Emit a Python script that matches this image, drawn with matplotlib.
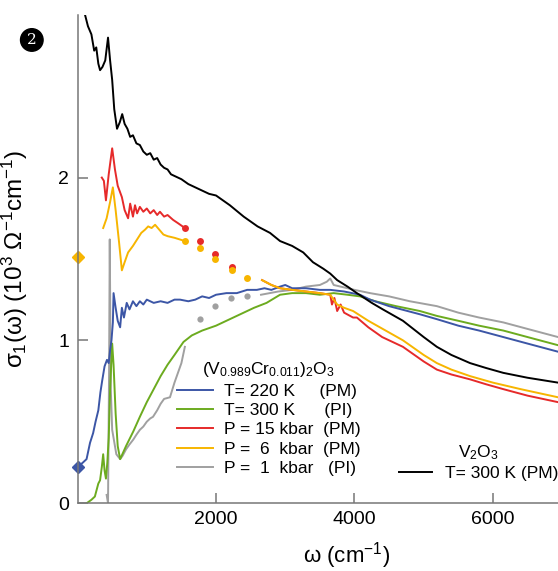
import matplotlib
matplotlib.use('Agg')
import matplotlib.pyplot as plt
from matplotlib.lines import Line2D

plt.rcParams['font.family'] = ['Liberation Sans', 'DejaVu Sans']
plt.rcParams['mathtext.fontset'] = 'custom'
plt.rcParams['mathtext.rm'] = 'Liberation Sans'
plt.rcParams['mathtext.it'] = 'Liberation Sans'

# V2O3, T = 300 K (PM)
v2o3_x = [108, 150, 200, 240, 270, 300, 325, 360, 400, 440, 470, 500, 530, 570, 610, 645,
          680, 720, 760, 800, 850, 900, 950, 1000, 1050, 1100, 1150, 1200, 1250, 1300, 1350,
          1400, 1500, 1600, 1700, 1800, 1900, 2000, 2200, 2400, 2600, 2780, 2925, 3100, 3260,
          3400, 3550, 3650, 3750, 3900, 4035, 4250, 4410, 4700, 5000, 5190, 5400, 5670, 5900,
          6150, 6500, 6940]
v2o3_y = [3.00, 2.93, 2.88, 2.78, 2.80, 2.70, 2.66, 2.68, 2.72, 2.86, 2.72, 2.60, 2.42, 2.30,
          2.34, 2.39, 2.33, 2.30, 2.25, 2.26, 2.21, 2.20, 2.16, 2.14, 2.15, 2.11, 2.12, 2.08,
          2.06, 2.05, 2.02, 2.01, 1.99, 1.96, 1.94, 1.92, 1.90, 1.89, 1.83, 1.76, 1.70, 1.66,
          1.61, 1.58, 1.54, 1.48, 1.44, 1.41, 1.37, 1.33, 1.29, 1.23, 1.19, 1.12, 1.02, 0.96,
          0.91, 0.86, 0.83, 0.80, 0.77, 0.74]

# T = 220 K (PM)
t220_x = [0, 80, 130, 180, 225, 260, 300, 330, 355, 390, 425, 450, 470, 490, 510, 520, 550,
          580, 615, 640, 670, 710, 750, 800, 850, 900, 950, 1000, 1100, 1200, 1300, 1400, 1480,
          1600, 1700, 1800, 1900, 2000, 2150, 2300, 2450, 2590, 2700, 2800, 2925, 3000, 3100,
          3300, 3500, 3650, 3850, 4080, 4225, 4500, 4945, 5190, 5500, 5800, 6150, 6500, 6940]
t220_y = [0.22, 0.25, 0.27, 0.37, 0.43, 0.50, 0.57, 0.68, 0.75, 0.84, 0.88, 0.86, 0.94, 1.00,
          1.11, 1.29, 1.20, 1.12, 1.08, 1.20, 1.14, 1.23, 1.19, 1.24, 1.21, 1.24, 1.22, 1.25,
          1.23, 1.24, 1.23, 1.25, 1.25, 1.24, 1.25, 1.27, 1.26, 1.28, 1.29, 1.29, 1.31, 1.31,
          1.32, 1.31, 1.33, 1.34, 1.32, 1.32, 1.31, 1.31, 1.30, 1.28, 1.25, 1.21, 1.16, 1.13,
          1.09, 1.06, 1.02, 0.98, 0.93]

# T = 300 K (PI)
t300_x = [135, 200, 250, 300, 325, 350, 370, 390, 410, 430, 450, 470, 500, 520, 550, 580, 615,
          700, 805, 900, 1000, 1100, 1200, 1300, 1400, 1530, 1650, 1800, 2000, 2100, 2250, 2400,
          2550, 2730, 2925, 3100, 3300, 3500, 3700, 3900, 4080, 4300, 4600, 4945, 5190, 5500,
          5800, 6150, 6500, 6940]
t300_y = [0.00, 0.02, 0.04, 0.12, 0.14, 0.22, 0.30, 0.20, 0.15, 0.25, 0.40, 0.70, 0.98, 0.85,
          0.55, 0.35, 0.27, 0.35, 0.44, 0.53, 0.62, 0.70, 0.78, 0.85, 0.91, 0.99, 1.03, 1.06,
          1.09, 1.11, 1.14, 1.17, 1.20, 1.23, 1.28, 1.29, 1.29, 1.28, 1.29, 1.28, 1.27, 1.24,
          1.21, 1.18, 1.15, 1.12, 1.09, 1.06, 1.02, 0.97]

# P = 15 kbar (PM): low-frequency part, dots, high-frequency part
p15_lo_x = [350, 380, 410, 450, 500, 540, 580, 640, 680, 730, 760, 800, 830, 860, 900, 950,
            1000, 1050, 1100, 1150, 1190, 1250, 1300, 1380, 1450, 1550]
p15_lo_y = [2.00, 1.98, 1.86, 2.02, 2.18, 2.05, 1.95, 1.88, 1.80, 1.75, 1.84, 1.76, 1.83, 1.78,
            1.82, 1.79, 1.81, 1.78, 1.80, 1.77, 1.79, 1.76, 1.77, 1.74, 1.72, 1.69]
p15_dot_x = [1550, 1770, 1985, 2230]
p15_dot_y = [1.69, 1.61, 1.53, 1.45]
p15_hi_x = [2665, 2800, 2925, 3100, 3300, 3500, 3650, 3675, 3710, 3750, 3800, 3850, 3980,
            4035, 4200, 4400, 4700, 5000, 5190, 5400, 5670, 5900, 6150, 6500, 6940]
p15_hi_y = [1.37, 1.34, 1.32, 1.31, 1.30, 1.29, 1.28, 1.22, 1.26, 1.18, 1.22, 1.17, 1.14,
            1.14, 1.08, 1.02, 0.96, 0.87, 0.82, 0.79, 0.76, 0.73, 0.70, 0.66, 0.62]

# P = 6 kbar (PM)
p6_lo_x = [370, 420, 470, 510, 550, 600, 640, 680, 730, 800, 860, 920, 975, 1020, 1070, 1120,
           1180, 1240, 1300, 1400, 1550]
p6_lo_y = [1.69, 1.75, 1.85, 1.94, 1.80, 1.60, 1.43, 1.48, 1.54, 1.58, 1.62, 1.66, 1.68, 1.70,
           1.69, 1.71, 1.68, 1.65, 1.64, 1.63, 1.61]
p6_dot_x = [0, 1550, 1770, 1985, 2230, 2445]
p6_dot_y = [1.51, 1.61, 1.57, 1.50, 1.43, 1.38]
p6_hi_x = [2665, 2800, 2925, 3100, 3300, 3500, 3650, 3700, 3750, 3850, 3980, 4200, 4450, 4700,
           5000, 5190, 5400, 5670, 6000, 6400, 6940]
p6_hi_y = [1.37, 1.34, 1.32, 1.31, 1.30, 1.29, 1.28, 1.25, 1.22, 1.20, 1.18, 1.12, 1.06, 1.00,
           0.91, 0.86, 0.82, 0.78, 0.74, 0.70, 0.65]

# P = 1 kbar (PI)
p1_lo_x = [420, 440, 455, 465, 480, 500, 560, 615, 650, 700, 750, 805, 850, 900, 950, 1000,
           1050, 1090, 1150, 1200, 1250, 1335, 1400, 1450, 1500, 1550]
p1_lo_y = [0.05, 0.00, 0.80, 1.62, 0.70, 0.45, 0.30, 0.27, 0.29, 0.33, 0.36, 0.39, 0.42, 0.45,
           0.47, 0.50, 0.52, 0.53, 0.57, 0.61, 0.64, 0.65, 0.74, 0.80, 0.86, 0.96]
p1_dot_x = [1770, 1985, 2215, 2445]
p1_dot_y = [1.13, 1.21, 1.26, 1.27]
p1_hi_x = [2650, 2900, 3100, 3300, 3500, 3600, 3650, 3700, 3800, 4000, 4225, 4500, 4800, 5190,
           5500, 5800, 6150, 6500, 6940]
p1_hi_y = [1.28, 1.30, 1.31, 1.33, 1.34, 1.36, 1.38, 1.34, 1.33, 1.31, 1.29, 1.27, 1.24, 1.21,
           1.17, 1.14, 1.11, 1.07, 1.02]

c_blue = '#3c56a6'
c_green = '#6cab1f'
c_red = '#e62a2a'
c_orange = '#f7b500'
c_gray = '#a0a0a0'

fig = plt.figure(figsize=(5.58, 5.71), dpi=100)
ax = fig.add_axes([0.139, 0.119, 0.861, 0.855])

lw = 1.4
ax.plot(p1_lo_x, p1_lo_y, color=c_gray, lw=lw)
ax.plot(p1_hi_x, p1_hi_y, color=c_gray, lw=lw)
ax.plot(p1_dot_x, p1_dot_y, 'o', color=c_gray, ms=4.5, mec='none')
ax.plot(t300_x, t300_y, color=c_green, lw=lw)
ax.plot(t220_x, t220_y, color=c_blue, lw=lw)
ax.plot(t220_x[:1], t220_y[:1], 'D', color=c_blue, ms=6, clip_on=False)
ax.plot(p15_lo_x, p15_lo_y, color=c_red, lw=lw)
ax.plot(p15_hi_x, p15_hi_y, color=c_red, lw=lw)
ax.plot(p15_dot_x, p15_dot_y, 'o', color=c_red, ms=5, mec='none')
ax.plot(p6_lo_x, p6_lo_y, color=c_orange, lw=lw)
ax.plot(p6_hi_x, p6_hi_y, color=c_orange, lw=lw)
ax.plot(p6_dot_x[1:], p6_dot_y[1:], 'o', color=c_orange, ms=5, mec='none')
ax.plot(p6_dot_x[:1], p6_dot_y[:1], 'D', color=c_orange, ms=6, clip_on=False)
ax.plot(v2o3_x, v2o3_y, color='black', lw=lw)

ax.set_xlim(0, 6940)
ax.set_ylim(0, 3.0)
ax.set_xticks([2000, 4000, 6000])
ax.set_yticks([0, 1, 2])
for s in ['top', 'right']:
    ax.spines[s].set_visible(False)
for s in ['left', 'bottom']:
    ax.spines[s].set_color('#777777')
    ax.spines[s].set_linewidth(1.1)
ax.tick_params(direction='in', length=7, width=1.1, color='#777777',
               labelsize=14, pad=6)

ax.set_ylabel(r'$\sigma_1(\omega)$ (10$^3$ $\Omega^{-1}$cm$^{-1}$)', fontsize=17.5)
ax.yaxis.set_label_coords(-0.1, 0.5)
ax.set_xlabel(r'$\omega$ (cm$^{-1}$)', fontsize=16)
ax.xaxis.set_label_coords(0.56, -0.075)

labels = ['T= 220 K     (PM)', 'T= 300 K      (PI)', 'P = 15 kbar  (PM)',
          'P =  6  kbar  (PM)', 'P =  1  kbar   (PI)']
colors = [c_blue, c_green, c_red, c_orange, c_gray]
handles = [Line2D([], [], color=c, lw=1.4) for c in colors]
leg1 = ax.legend(handles, labels, title=r'(V$_{0.989}$Cr$_{0.011}$)$_2$O$_3$',
                 loc='upper left', bbox_to_anchor=(0.207, 0.292), frameon=False,
                 fontsize=12.5, title_fontsize=12.5, handlelength=2.1, handletextpad=0.6,
                 labelspacing=0.24, borderpad=0, borderaxespad=0)
ax.add_artist(leg1)
ax.legend([Line2D([], [], color='black', lw=1.4)], ['T= 300 K (PM)'], title=r'V$_2$O$_3$',
          loc='upper right', bbox_to_anchor=(1.0, 0.123), frameon=False, fontsize=12.5,
          title_fontsize=12.5, handlelength=1.9, handletextpad=0.7, labelspacing=0.24,
          borderpad=0, borderaxespad=0)

fig.text(0.057, 0.93, '2', color='white', fontsize=11, ha='center', va='center',
         family='DejaVu Serif',
         bbox=dict(boxstyle='circle,pad=0.28', fc='black', ec='black'))

fig.savefig('out.png', dpi=100)
